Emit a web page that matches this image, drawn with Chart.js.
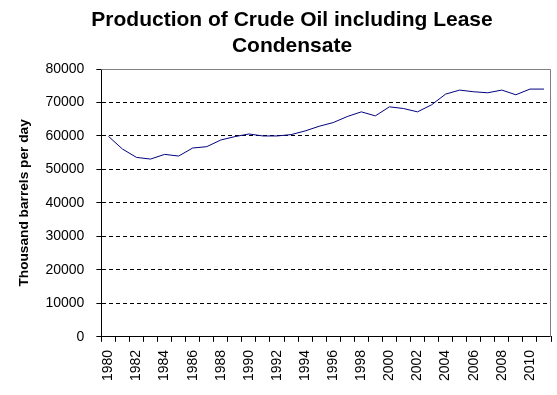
<!DOCTYPE html>
<html>
<head>
<meta charset="utf-8">
<script src="https://cdn.jsdelivr.net/npm/chart.js@4/dist/chart.umd.min.js"></script>
<style>
html,body{margin:0;padding:0;background:#fff;}
#wrap{width:557px;height:395px;position:relative;}
</style>
</head>
<body>
<div id="wrap"><canvas id="c" width="557" height="395"></canvas></div>
<script>
const years = [1980,1981,1982,1983,1984,1985,1986,1987,1988,1989,1990,1991,1992,1993,1994,1995,
               1996,1997,1998,1999,2000,2001,2002,2003,2004,2005,2006,2007,2008,2009,2010,2011];
const production = [59900,56100,53600,53100,54500,54000,56400,56800,58800,59800,60600,60000,60000,60400,61500,62900,
                    64000,65800,67200,66000,68700,68200,67200,69300,72500,73700,73200,72900,73700,72300,74000,74000];
const titleLines = ['Production of Crude Oil including Lease','Condensate'];
const yAxisTitle = 'Thousand barrels per day';
const yMin = 0, yMax = 80000, yStep = 10000;

const FONT = 'Liberation Sans, Arial, sans-serif';

const frame = {
  id:'frame',
  afterLayout(chart){
    const t = chart.titleBlock;
    if (t){ t.left += 14.5; t.right += 14.5; }
  },
  afterDatasetsDraw(chart){
    const {ctx, chartArea:a} = chart;
    ctx.save();
    ctx.strokeStyle = '#808080';
    ctx.lineWidth = 1;
    ctx.beginPath();
    ctx.moveTo(a.left, a.top + 0.5);
    ctx.lineTo(a.right - 0.5, a.top + 0.5);
    ctx.lineTo(a.right - 0.5, a.bottom);
    ctx.stroke();
    ctx.restore();
  }
};

new Chart(document.getElementById('c'), {
  type:'line',
  data:{
    labels: years.map(String),
    datasets:[{
      data: production,
      borderColor:'#000080',
      borderWidth:1,
      pointRadius:0,
      tension:0,
      fill:false
    }]
  },
  options:{
    responsive:false,
    animation:false,
    devicePixelRatio:1,
    layout:{padding:{left:4,right:6,top:0,bottom:6}},
    plugins:{
      legend:{display:false},
      tooltip:{enabled:false},
      title:{
        display:true,
        text:titleLines,
        color:'#000',
        font:{family:FONT,size:21,weight:'bold',lineHeight:1.25},
        padding:{top:7,bottom:9.5}
      }
    },
    scales:{
      x:{
        type:'category',
        offset:true,
        afterFit:(s)=>{ s.paddingRight = 0; s.paddingLeft = 0; },
        grid:{
          display:true,
          offset:true,
          drawOnChartArea:false,
          drawTicks:true,
          tickLength:5,
          tickColor:'#000',
          color:'#000'
        },
        border:{display:true,color:'#000',width:1},
        ticks:{
          autoSkip:false,
          minRotation:90,
          maxRotation:90,
          padding:8,
          color:'#000',
          font:{family:FONT,size:14},
          callback:function(v,i){ return i % 2 === 0 ? this.getLabelForValue(v) : ''; }
        }
      },
      y:{
        min:yMin,
        max:yMax,
        grid:{
          color:(ctx)=> (ctx.tick && ctx.tick.value === yMax) ? 'rgba(0,0,0,0)' : '#000',
          lineWidth:1,
          drawTicks:true,
          tickLength:5,
          tickColor:'#000'
        },
        border:{display:true,color:'#000',width:1,dash:[4,3]},
        ticks:{
          stepSize:yStep,
          padding:12,
          color:'#000',
          font:{family:FONT,size:14},
          callback:(v)=>String(v)
        },
        title:{
          display:true,
          text:yAxisTitle,
          color:'#000',
          font:{family:FONT,size:13.7,weight:'bold'},
          padding:{top:12,bottom:1}
        }
      }
    }
  },
  plugins:[frame]
});
</script>
</body>
</html>
